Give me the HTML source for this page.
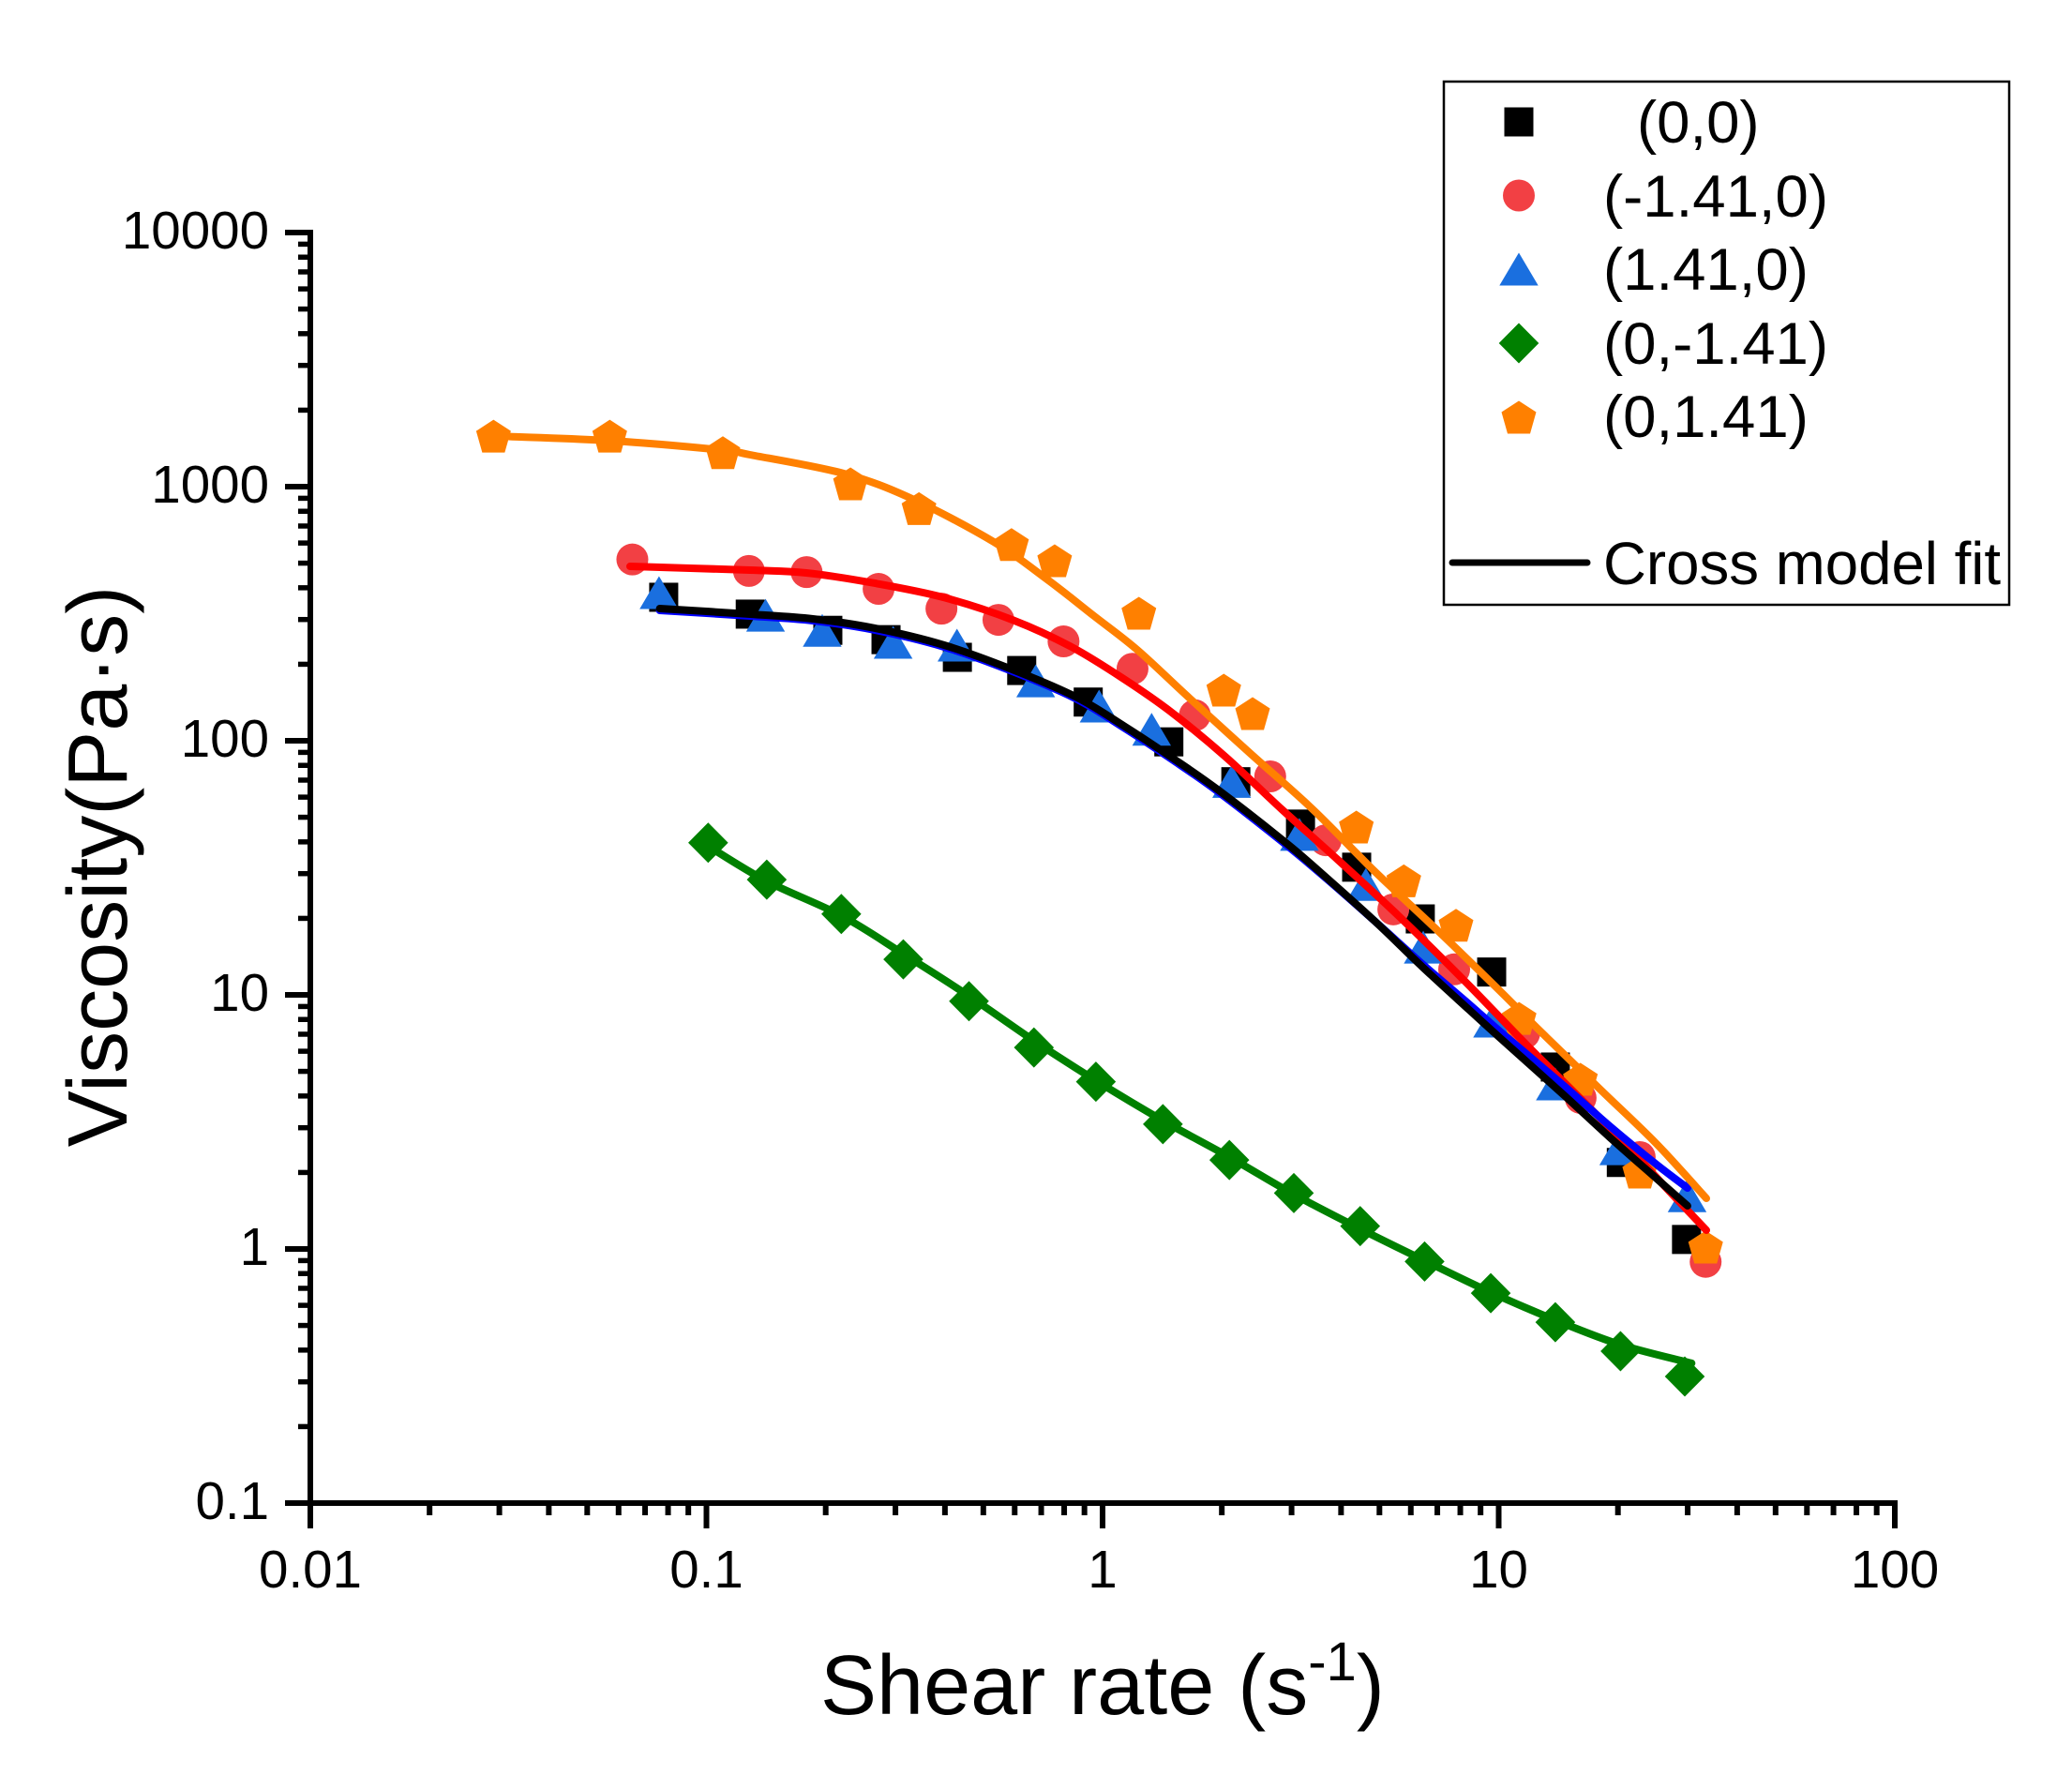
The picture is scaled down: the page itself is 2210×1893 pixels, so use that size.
<!DOCTYPE html>
<html lang="en">
<head>
<meta charset="utf-8">
<title>Viscosity vs shear rate</title>
<style>
html,body{margin:0;padding:0;background:#fff}
svg{display:block}
text{font-family:"Liberation Sans",sans-serif;fill:#000}
</style>
</head>
<body>
<svg id="chart" xmlns="http://www.w3.org/2000/svg" width="2210" height="1893" viewBox="0 0 2210 1893">
  <rect x="0" y="0" width="2210" height="1893" fill="#ffffff"/>
  <g id="minor-ticks"></g>
  <g id="markers"></g>
  <g id="fits"></g>
  <g id="axes"></g>
  <text x="875" y="1828" font-size="90">Shear rate (s<tspan font-size="58" dy="-36">-1</tspan><tspan dy="36">)</tspan></text>
  <text transform="translate(135,924) rotate(-90)" text-anchor="middle" font-size="90">Viscosity(Pa·s)</text>
  <g id="legend">
    <rect x="1540" y="87" width="603" height="558" fill="none" stroke="#000" stroke-width="2.5"/>
    <line x1="1549" y1="600" x2="1693" y2="600" stroke="#000" stroke-width="7" stroke-linecap="round"/>
    <text x="1710" y="623" font-size="63.6">Cross model fit</text>
    <text x="1746" y="152" font-size="63.5">(0,0)</text>
    <text x="1710" y="231" font-size="63.5">(-1.41,0)</text>
    <text x="1710" y="309" font-size="63.5">(1.41,0)</text>
    <text x="1710" y="388" font-size="63.5">(0,-1.41)</text>
    <text x="1710" y="466" font-size="63.5">(0,1.41)</text>
  </g>
</svg>
<script>
const xTickValues = [0.01, 0.1, 1, 10, 100];
const xTickLabels = ["0.01", "0.1", "1", "10", "100"];
const yTickValues = [0.1, 1, 10, 100, 1000, 10000];
const yTickLabels = ["0.1", "1", "10", "100", "1000", "10000"];
const minorMultipliers = [2, 3, 4, 5, 6, 7, 8, 9];

const squareX = [0.078,0.129,0.2025,0.284,0.43,0.625,0.92,1.47,2.17,3.16,4.38,6.34,9.6,13.9,20.4,29.8];
const squareY = [367,315,272,250,213,189,142,99,69,47,31.8,19.9,12.3,5.2,2.19,1.09];
const circleX = [0.065,0.128,0.179,0.272,0.392,0.546,0.797,1.19,1.71,2.65,3.66,5.42,7.72,11.6,16.1,22.7,33.3];
const circleY = [517,466,461,396,331,299,246,192,126,72.4,40.6,21.7,12.6,7.06,3.93,2.30,0.89];
const triangleX = [0.0759,0.141,0.196,0.296,0.429,0.678,0.98,1.33,2.118,3.14,4.62,6.45,9.65,13.9,20.1,29.9];
const triangleY = [383,312,272,244,238,172,137,111,69.2,42.8,27.2,15.4,7.88,4.46,2.48,1.62];
const diamondX = [0.101,0.142,0.219,0.314,0.46,0.671,0.962,1.42,2.09,3.04,4.47,6.5,9.55,13.9,20.3,29.5];
const diamondY = [39.7,28.4,20.8,13.8,9.44,6.21,4.55,3.10,2.24,1.66,1.23,0.893,0.67,0.515,0.396,0.315];
const pentagonX = [0.029,0.057,0.11,0.231,0.344,0.589,0.757,1.235,2.023,2.392,4.372,5.761,7.804,11.26,16.08,22.7,33.3];
const pentagonY = [1580,1580,1360,1026,820,592,511,317.6,158.2,127.9,45.76,28.1,18.8,8.08,4.655,2.007,1.017];

const fitBlackX = [0.0762,0.1288,0.1856,0.266,0.3981,0.5832,0.8539,1.14,1.497,1.966,2.926,3.719,4.884,6.414,8.424,10.08,14.53,19.08,25.05,29.98];
const fitBlackY = [331.4,314.9,301.8,277.3,237.9,192.4,149.1,113.6,85.82,63.74,39.27,28.44,19.4,12.9,8.73,6.767,4.063,2.749,1.891,1.478];
const fitBlueX = [0.0762,0.1288,0.1856,0.266,0.3981,0.5832,0.8539,1.14,1.497,1.966,2.926,3.719,4.884,6.414,8.424,10.08,14.53,19.08,25.05,29.98];
const fitBlueY = [325.8,309.6,296.7,272.6,233.9,189.2,146.6,111.7,84.4,62.66,38.6,28.2,19.4,13.23,9.186,7.179,4.423,3.044,2.148,1.737];
const fitRedX = [0.06414,0.1288,0.1787,0.266,0.3981,0.5926,0.8353,1.14,1.497,2.042,2.832,3.927,5.627,8.333,11.87,19.08,27.33,33.44];
const fitRedY = [485.6,469.4,457.6,416.8,366,299,233.9,173.7,129,86.56,53.78,33.99,20.25,11.07,6.266,2.992,1.651,1.185];
const fitGreenX = [0.101,0.142,0.219,0.314,0.46,0.671,0.962,1.42,2.09,3.04,4.47,6.5,9.55,13.9,20.3,30.7];
const fitGreenY = [38.5,28,20.5,14.5,9.9,6.6,4.6,3.2,2.3,1.64,1.2,0.9,0.675,0.525,0.42,0.355];
const fitOrangeX = [0.0291,0.0572,0.1094,0.1288,0.2222,0.3307,0.5314,0.725,0.9522,1.223,1.642,2.353,3.39,4.884,6.998,10.08,12.54,18.06,25.05,33.44];
const fitOrangeY = [1582,1516,1393,1335,1126,895.4,605.8,431.2,309.6,228,149.1,89.54,53.78,30.43,17.97,10.35,7.365,4.24,2.59,1.582];

const NS = "http://www.w3.org/2000/svg";
const plotLeft = 331, plotRight = 2021, plotTop = 248, plotBottom = 1603;
function xPos(v){ return plotLeft + (Math.log10(v) + 2) / 4 * (plotRight - plotLeft); }
function yPos(v){ return plotTop + (4 - Math.log10(v)) / 5 * (plotBottom - plotTop); }
function make(tag, parent){
  const el = document.createElementNS(NS, tag);
  parent.appendChild(el);
  return el;
}
function segment(parent, x1, y1, x2, y2, w){
  const el = make("line", parent);
  el.setAttribute("x1", x1); el.setAttribute("y1", y1);
  el.setAttribute("x2", x2); el.setAttribute("y2", y2);
  el.setAttribute("stroke", "#000"); el.setAttribute("stroke-width", w);
  return el;
}
const axesG = document.getElementById("axes");
const minorG = document.getElementById("minor-ticks");

const yAxisLine = segment(axesG, plotLeft, plotTop - 3, plotLeft, plotBottom + 27, 6);


const xAxisLine = segment(axesG, plotLeft - 27, plotBottom, plotRight + 3, plotBottom, 6);



xTickValues.forEach(function(v, i){
  const t = segment(axesG, xPos(v), plotBottom, xPos(v), plotBottom + 27, 6);
  
  
  const lab = make("text", axesG);
  lab.setAttribute("x", xPos(v));
  lab.setAttribute("y", 1693);
  lab.setAttribute("font-size", 56.5);
  lab.setAttribute("text-anchor", "middle");
  lab.textContent = xTickLabels[i];
  
  
  if (i < xTickValues.length - 1) {
    minorMultipliers.forEach(function(m){
      const mt = segment(minorG, xPos(v * m), plotBottom, xPos(v * m), plotBottom + 13, 6);
      
      
    });
  }
});
yTickValues.forEach(function(v, i){
  const t = segment(axesG, plotLeft - 27, yPos(v), plotLeft, yPos(v), 6);
  
  
  const lab = make("text", axesG);
  lab.setAttribute("x", 287);
  lab.setAttribute("y", yPos(v) + 17);
  lab.setAttribute("font-size", 56.5);
  lab.setAttribute("text-anchor", "end");
  lab.textContent = yTickLabels[i];
  
  
  if (i < yTickValues.length - 1) {
    minorMultipliers.forEach(function(m){
      const mt = segment(minorG, plotLeft - 13, yPos(v * m), plotLeft, yPos(v * m), 5.5);
      
      
    });
  }
});

function drawSquare(parent, cx, cy, color){
  const el = make("rect", parent);
  el.setAttribute("x", cx - 15.5); el.setAttribute("y", cy - 15.5);
  el.setAttribute("width", 31); el.setAttribute("height", 31);
  el.setAttribute("fill", color);
  return el;
}
function drawCircle(parent, cx, cy, color){
  const el = make("circle", parent);
  el.setAttribute("cx", cx); el.setAttribute("cy", cy); el.setAttribute("r", 17);
  el.setAttribute("fill", color);
  return el;
}
function drawPoly(parent, cx, cy, color, pts){
  const el = make("polygon", parent);
  el.setAttribute("points", pts.map(function(p){ return (cx + p[0]) + "," + (cy + p[1]); }).join(" "));
  el.setAttribute("fill", color);
  return el;
}
const triShape = [[0,-17.5],[20.7,17.5],[-20.7,17.5]];
const diaShape = [[0,-21.5],[21.3,0],[0,21.5],[-21.3,0]];
const penShape = [[0,-17.5],[18.5,-5.5],[12,17.5],[-12,17.5],[-18.5,-5.5]];
function drawTriangle(p, x, y, c){ return drawPoly(p, x, y, c, triShape); }
function drawDiamond(p, x, y, c){ return drawPoly(p, x, y, c, diaShape); }
function drawPentagon(p, x, y, c){ return drawPoly(p, x, y, c, penShape); }

const markerG = document.getElementById("markers");
squareX.forEach(function(v, i){
  const m = drawSquare(markerG, xPos(v), yPos(squareY[i]), "#000000");
  
  
});
circleX.forEach(function(v, i){
  const m = drawCircle(markerG, xPos(v), yPos(circleY[i]), "#f24044");
  
  
});
triangleX.forEach(function(v, i){
  const m = drawTriangle(markerG, xPos(v), yPos(triangleY[i]), "#1a6fdf");
  
  
});
diamondX.forEach(function(v, i){
  const m = drawDiamond(markerG, xPos(v), yPos(diamondY[i]), "#008000");
  
  
});
pentagonX.forEach(function(v, i){
  const m = drawPentagon(markerG, xPos(v), yPos(pentagonY[i]), "#ff8000");
  
  
});

function smoothPath(xs, ys){
  const p = xs.map(function(v, i){ return [xPos(v), yPos(ys[i])]; });
  let d = "M" + p[0][0] + " " + p[0][1];
  for (let i = 0; i < p.length - 1; i++) {
    const a = p[Math.max(i - 1, 0)], b = p[i], c = p[i + 1], e = p[Math.min(i + 2, p.length - 1)];
    d += " C" + (b[0] + (c[0] - a[0]) / 6) + " " + (b[1] + (c[1] - a[1]) / 6) + " " +
         (c[0] - (e[0] - b[0]) / 6) + " " + (c[1] - (e[1] - b[1]) / 6) + " " + c[0] + " " + c[1];
  }
  return d;
}
function drawFit(xs, ys, color, w){
  const el = make("path", document.getElementById("fits"));
  el.setAttribute("d", smoothPath(xs, ys));
  el.setAttribute("fill", "none");
  el.setAttribute("stroke", color);
  el.setAttribute("stroke-width", w);
  el.setAttribute("stroke-linecap", "round");
  el.setAttribute("stroke-linejoin", "round");
  return el;
}
const fitRed = drawFit(fitRedX, fitRedY, "#ff0000", 8);


const fitBlue = drawFit(fitBlueX, fitBlueY, "#0000ff", 8);


const fitBlack = drawFit(fitBlackX, fitBlackY, "#000000", 8);


const fitGreen = drawFit(fitGreenX, fitGreenY, "#008000", 8);


const fitOrange = drawFit(fitOrangeX, fitOrangeY, "#ff8000", 8);



const legendG = document.getElementById("legend");
const legendSquare = drawSquare(legendG, 1620, 130, "#000000");


const legendCircle = drawCircle(legendG, 1620, 208.5, "#f24044");


const legendTriangle = drawTriangle(legendG, 1620, 287, "#1a6fdf");


const legendDiamond = drawDiamond(legendG, 1620, 366, "#008000");


const legendPentagon = drawPentagon(legendG, 1620, 445, "#ff8000");


</script>
</body>
</html>
